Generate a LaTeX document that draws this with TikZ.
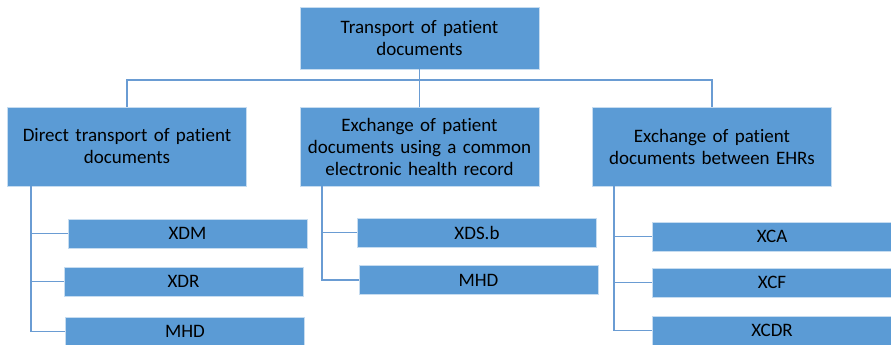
\documentclass[tikz,border=0pt]{standalone}
\usepackage{fontspec}
\setmainfont{Carlito}[Ligatures=NoCommon]
\definecolor{boxblue}{HTML}{5B9BD5}
\definecolor{lineblue}{HTML}{6A9CD3}

\begin{document}
\begin{tikzpicture}[x=1pt, y=-1pt,
		box/.style={fill=boxblue, draw=boxblue!35, line width=0.7pt, minimum width=239pt, inner sep=2pt, align=center, font=\fontsize{19}{22}\selectfont},
		bigbox/.style={box, minimum height=79pt, text width=235pt},
		leaf/.style={box, minimum height=29pt},
		link/.style={draw=lineblue, line width=1.8pt}]

				\useasboundingbox (0,0) rectangle (891,345);
				\clip (0,0) rectangle (891,345);

				\node [box, minimum height=62pt, text width=235pt] (top) at (419.5, 38) {Transport of patient\\documents};

				\node [bigbox] (direct) at (127, 146.5) {Direct transport of patient\\documents};
				\node [bigbox] (common) at (419.5, 146.5) {Exchange of patient\\documents using a common\\electronic health record};
				\node [bigbox] (ehr) at (712, 146.5) {Exchange of patient\\documents between EHRs};

				\node [leaf] (xdm) at (187.5, 233.5) {XDM};
				\node [leaf] (xdr) at (183.5, 281.5) {XDR};
				\node [leaf] (mhdA) at (185, 331.5) {MHD};

				\node [leaf] (xdsb) at (477, 232.5) {XDS.b};
				\node [leaf] (mhdB) at (478.5, 280) {MHD};

				\node [leaf] (xca) at (772, 236.5) {XCA};
				\node [leaf] (xcf) at (772, 282.5) {XCF};
				\node [leaf] (xcdr) at (772, 330.5) {XCDR};

				\coordinate (bus) at (419.5, 80);
				\coordinate (spineA) at (31, 186);
				\coordinate (spineB) at (322, 186);
				\coordinate (spineC) at (614, 186);

				\draw [link] (top.south) -- (common.north);
				\draw [link] (bus) -| (direct.north);
				\draw [link] (bus) -| (ehr.north);

				\draw [link] (spineA) |- (xdm.west);
				\draw [link] (spineA) |- (xdr.west);
				\draw [link] (spineA) |- (mhdA.west);

				\draw [link] (spineB) |- (xdsb.west);
				\draw [link] (spineB) |- (mhdB.west);

				\draw [link] (spineC) |- (xca.west);
				\draw [link] (spineC) |- (xcf.west);
				\draw [link] (spineC) |- (xcdr.west);
		\end{tikzpicture}
\end{document}
